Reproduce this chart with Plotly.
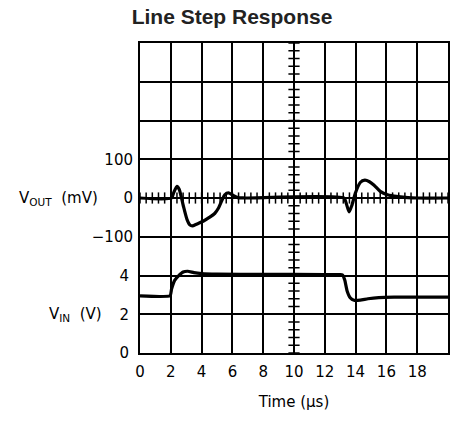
import numpy as np
import plotly.graph_objects as go

# Data
vout_t = [0, 2.05, 2.2, 2.4, 2.55, 2.8, 3.05, 3.25, 3.4, 3.7, 4.1, 4.5, 4.85, 5.1, 5.3,
          5.5, 5.75, 6.0, 6.35, 6.8, 13.25, 13.4, 13.58, 13.75, 13.98, 14.3, 14.6, 14.9,
          15.2, 15.6, 16.0, 16.5, 17.4, 18.0, 20.0]
vout_mv = [0, 0, 15, 30, 22, -18, -55, -70, -72, -67, -60, -50, -40, -26, -8,
           8, 13, 8, 1, 0, 0, -15, -36, -20, 12, 40, 46, 42,
           33, 17, 9, 5, 1, 0, 0]

vin_t = [0, 1.95, 2.05, 2.25, 2.5, 2.8, 3.1, 3.5, 4.0, 5.0, 8.0, 12.0, 13.0, 13.15, 13.3,
         13.45, 13.65, 13.9, 14.3, 14.8, 15.5, 16.5, 20.0]
vin_v = [2.95, 2.95, 3.3, 3.75, 3.98, 4.18, 4.22, 4.15, 4.1, 4.07, 4.06, 4.05, 4.05, 4.03,
         3.75, 3.2, 2.85, 2.72, 2.73, 2.8, 2.86, 2.88, 2.88]

x_ticks = [0, 2, 4, 6, 8, 10, 12, 14, 16, 18]
vin_ticks = [0, 2, 4]
vout_ticks = [-100, 0, 100]
vout_ticktext = ["\u2212100", "0", "100"]

FONT = "DejaVu Sans"

fig = go.Figure()

# center graticule minor ticks
hx = np.arange(0, 20.001, 0.4)
fig.add_trace(go.Scatter(x=hx, y=[0] * len(hx), yaxis="y2", mode="markers",
                         marker=dict(symbol="line-ns", size=8,
                                     line=dict(width=1.5, color="black")),
                         hoverinfo="skip", showlegend=False))
vy = np.arange(0, 16.001, 0.4)
fig.add_trace(go.Scatter(x=[10] * len(vy), y=vy, mode="markers",
                         marker=dict(symbol="line-ew", size=8,
                                     line=dict(width=1.5, color="black")),
                         hoverinfo="skip", showlegend=False))

fig.add_trace(go.Scatter(x=vin_t, y=vin_v, mode="lines",
                         line=dict(color="black", width=3.2, shape="spline", smoothing=0.4),
                         showlegend=False))
fig.add_trace(go.Scatter(x=vout_t, y=vout_mv, yaxis="y2", mode="lines",
                         line=dict(color="black", width=3.2, shape="spline", smoothing=0.6),
                         showlegend=False))

fig.update_layout(
    width=454, height=424,
    margin=dict(l=140, r=4, t=43, b=71),
    paper_bgcolor="white", plot_bgcolor="white",
    font=dict(family=FONT, size=15, color="black"),
    title=dict(text="<b>Line Step Response</b>", x=232 / 454, xanchor="center",
               y=1 - 17 / 424, yanchor="middle",
               font=dict(family="Liberation Sans", size=21, color="#222")),
    xaxis=dict(range=[0, 20], tickvals=x_ticks,
               showgrid=True, gridcolor="black", gridwidth=1.5,
               showline=True, linecolor="black", linewidth=2, mirror=True,
               ticks="", zeroline=False, fixedrange=True, ticklabelstandoff=4,
               title=dict(text="Time (\u03bcs)", standoff=16, font=dict(size=15))),
    yaxis=dict(range=[0, 16], tickvals=vin_ticks,
               showgrid=True, gridcolor="black", gridwidth=1.5,
               minor=dict(tick0=0, dtick=2, showgrid=True, gridcolor="black",
                          gridwidth=1.5, ticks=""),
               showline=True, linecolor="black", linewidth=2, mirror=True,
               ticks="", zeroline=False, ticklabelstandoff=6, fixedrange=True),
    yaxis2=dict(range=[-400, 400], overlaying="y", side="left",
                tickvals=vout_ticks, ticktext=vout_ticktext,
                showgrid=False, zeroline=False, showline=False, ticks="",
                ticklabelstandoff=6, fixedrange=True),
    annotations=[
        dict(text="V<sub>OUT</sub>  (mV)", xref="paper", yref="y2", x=(100 - 140) / 310, y=0,
             xanchor="right", yanchor="middle", showarrow=False, font=dict(size=15)),
        dict(text="V<sub>IN</sub>  (V)", xref="paper", yref="y", x=(104 - 140) / 310, y=2,
             xanchor="right", yanchor="middle", showarrow=False, font=dict(size=15)),
    ],
)

fig.write_html("out.html", config={"displayModeBar": False},
               post_script="document.body.style.margin='0';document.body.style.overflow='hidden';")
